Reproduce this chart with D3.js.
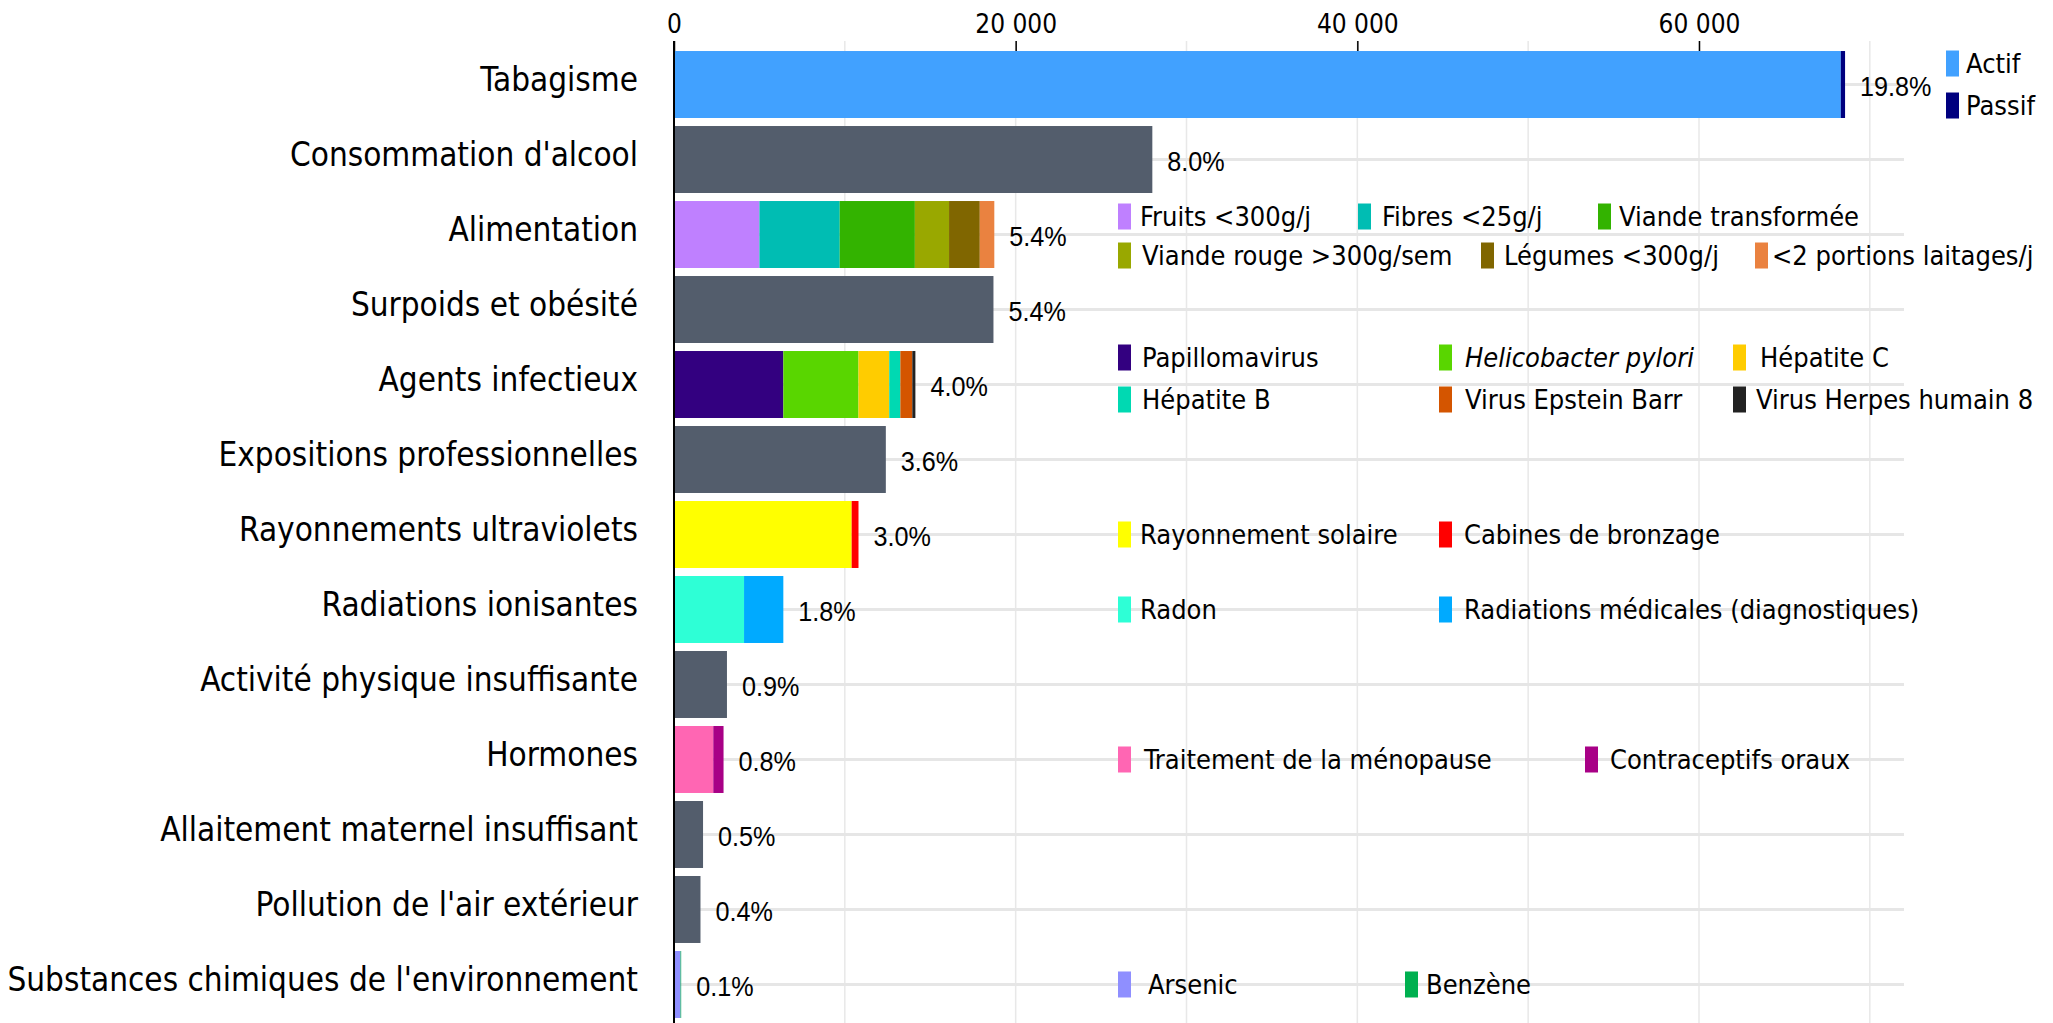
<!DOCTYPE html>
<html lang="fr">
<head>
<meta charset="utf-8">
<title>Cancers attribuables aux facteurs de risque</title>
<script src="https://cdn.jsdelivr.net/npm/d3@7"></script>
<style>
  body { margin: 0; background: #fff; }
  svg { display: block; }
  .cond { font-family: 'DejaVu Sans Condensed', 'DejaVu Sans', sans-serif; font-stretch: condensed; }
</style>
</head>
<body>
<div id="chart"></div>
<script>
// categories, top to bottom
var categories = ["Tabagisme", "Consommation d'alcool", "Alimentation", "Surpoids et obésité",
  "Agents infectieux", "Expositions professionnelles", "Rayonnements ultraviolets",
  "Radiations ionisantes", "Activité physique insuffisante", "Hormones",
  "Allaitement maternel insuffisant", "Pollution de l'air extérieur",
  "Substances chimiques de l'environnement"];
var percentLabels = ["19.8%", "8.0%", "5.4%", "5.4%", "4.0%", "3.6%", "3.0%", "1.8%",
  "0.9%", "0.8%", "0.5%", "0.4%", "0.1%"];

// bars without breakdown
var plainNames = ["Consommation d'alcool", "Surpoids et obésité", "Expositions professionnelles",
  "Activité physique insuffisante", "Allaitement maternel insuffisant", "Pollution de l'air extérieur"];
var plainValues = [28000, 18700, 12400, 3100, 1700, 1550];

// stacked bars
var tabacNames = ["Actif", "Passif"];
var tabacValues = [68300, 250];
var alimNames = ["Fruits <300g/j", "Fibres <25g/j", "Viande transformée",
  "Viande rouge >300g/sem", "Légumes <300g/j", "<2 portions laitages/j"];
var alimValues = [5000, 4700, 4400, 2000, 1800, 850];
var infectNames = ["Papillomavirus", "Helicobacter pylori", "Hépatite C",
  "Hépatite B", "Virus Epstein Barr", "Virus Herpes humain 8"];
var infectValues = [6400, 4400, 1800, 650, 700, 180];
var uvNames = ["Rayonnement solaire", "Cabines de bronzage"];
var uvValues = [10400, 400];
var radNames = ["Radon", "Radiations médicales (diagnostiques)"];
var radValues = [4100, 2300];
var hormNames = ["Traitement de la ménopause", "Contraceptifs oraux"];
var hormValues = [2300, 600];
var chemNames = ["Arsenic", "Benzène"];
var chemValues = [380, 40];

var xTicks = [0, 20000, 40000, 60000];

var colors = {
  "plain": "#535d6c",
  "Actif": "#41a1ff", "Passif": "#00007f",
  "Fruits <300g/j": "#bf80ff", "Fibres <25g/j": "#00bdb3", "Viande transformée": "#33b300",
  "Viande rouge >300g/sem": "#99a800", "Légumes <300g/j": "#806600", "<2 portions laitages/j": "#ea8240",
  "Papillomavirus": "#330080", "Helicobacter pylori": "#59d600", "Hépatite C": "#ffcc00",
  "Hépatite B": "#00d9b2", "Virus Epstein Barr": "#d45500", "Virus Herpes humain 8": "#222222",
  "Rayonnement solaire": "#ffff00", "Cabines de bronzage": "#ff0000",
  "Radon": "#2effd6", "Radiations médicales (diagnostiques)": "#00aaff",
  "Traitement de la ménopause": "#ff66b3", "Contraceptifs oraux": "#a80086",
  "Arsenic": "#8f8fff", "Benzène": "#00b050"
};

// legend placement: [swatch x, offset from row centre, text x]
var legendPos = {
  "Actif": [1946, -21, 1966], "Passif": [1946, 21, 1966],
  "Fruits <300g/j": [1118, -18, 1140], "Fibres <25g/j": [1358, -18, 1382], "Viande transformée": [1598, -18, 1619],
  "Viande rouge >300g/sem": [1118, 21, 1142], "Légumes <300g/j": [1481, 21, 1504], "<2 portions laitages/j": [1755, 21, 1772],
  "Papillomavirus": [1118, -27, 1142], "Helicobacter pylori": [1439, -27, 1465], "Hépatite C": [1733, -27, 1760],
  "Hépatite B": [1118, 15, 1142], "Virus Epstein Barr": [1439, 15, 1465], "Virus Herpes humain 8": [1733, 15, 1756],
  "Rayonnement solaire": [1118, 0, 1140], "Cabines de bronzage": [1439, 0, 1464],
  "Radon": [1118, 0, 1140], "Radiations médicales (diagnostiques)": [1439, 0, 1464],
  "Traitement de la ménopause": [1118, 0, 1144], "Contraceptifs oraux": [1585, 0, 1610],
  "Arsenic": [1118, 0, 1148], "Benzène": [1405, 0, 1426]
};

var groups = [
  [0, tabacNames, tabacValues], [2, alimNames, alimValues], [4, infectNames, infectValues],
  [6, uvNames, uvValues], [7, radNames, radValues], [9, hormNames, hormValues], [12, chemNames, chemValues]
];

var rows = categories.map(function(c, i) {
  return { cat: c, pct: percentLabels[i], parts: [] };
});
plainNames.forEach(function(n, i) {
  rows[categories.indexOf(n)].parts.push({ name: "plain", value: plainValues[i] });
});
groups.forEach(function(g) {
  g[1].forEach(function(n, i) {
    rows[g[0]].parts.push({ name: n, value: g[2][i] });
  });
});
rows.forEach(function(r) {
  var acc = 0;
  r.parts.forEach(function(p) { p.x0 = acc; acc += p.value; p.x1 = acc; });
  r.total = acc;
});

var W = 2053, H = 1023;
var svg = d3.select("#chart").append("svg")
  .attr("width", W).attr("height", H)
  .style("background", "#fff");

var x = d3.scaleLinear().domain([0, 72000]).range([674, 1904]);
var y = d3.scaleBand().domain(categories).range([43, 1026]).padding(0.107);
var mid = function(c) { return y(c) + y.bandwidth() / 2; };

// grid
svg.append("g").selectAll("line")
  .data(d3.range(10000, 80000, 10000))
  .join("line")
    .attr("x1", d => x(d)).attr("x2", d => x(d))
    .attr("y1", 41).attr("y2", H)
    .attr("stroke", "#e8e8e8").attr("stroke-width", 1.5);

svg.append("g").selectAll("line")
  .data(categories)
  .join("line")
    .attr("x1", x(0)).attr("x2", x.range()[1])
    .attr("y1", d => mid(d)).attr("y2", d => mid(d))
    .attr("stroke", "#e6e6e6").attr("stroke-width", 3);

// bars
svg.append("g").selectAll("g")
  .data(rows)
  .join("g")
  .selectAll("rect")
  .data(function(r) { return r.parts.map(function(p) { p.cat = r.cat; return p; }); })
  .join("rect")
    .attr("x", d => x(d.x0))
    .attr("width", d => x(d.x1) - x(d.x0))
    .attr("y", d => y(d.cat))
    .attr("height", y.bandwidth())
    .attr("fill", d => colors[d.name]);

// percent labels (slightly narrowed Arial-like face)
svg.append("g").selectAll("text")
  .data(rows)
  .join("text")
    .attr("transform", d => "translate(" + (x(d.total) + 15) + "," + (mid(d.cat) + 2) + ") scale(0.9,1)")
    .attr("dominant-baseline", "central")
    .style("font-family", "'Liberation Sans', Arial, sans-serif")
    .style("font-size", "28px")
    .text(d => d.pct);

// top axis
var xAxis = svg.append("g")
  .attr("transform", "translate(0,51)")
  .call(d3.axisTop(x).tickValues(xTicks).tickSize(10).tickPadding(8)
    .tickFormat(d => d3.format(",")(d).replace(/,/g, " ")));
xAxis.select(".domain").remove();
xAxis.selectAll("line").attr("stroke", "#000").attr("stroke-width", 1.5);
xAxis.selectAll("text")
  .attr("class", "cond")
  .style("font-size", "26px")
  .attr("fill", "#000");

// category axis
var yAxis = svg.append("g")
  .attr("transform", "translate(" + x(0) + ",0)")
  .call(d3.axisLeft(y).tickSize(0).tickPadding(36));
yAxis.select(".domain").attr("stroke", "#000").attr("stroke-width", 2)
  .attr("d", "M0,41V" + H);
yAxis.selectAll("text")
  .attr("class", "cond")
  .attr("dy", "0.32em")
  .attr("y", -4)
  .style("font-size", "33px")
  .attr("fill", "#000");

// legends
var legendItems = [];
groups.forEach(function(g) {
  g[1].forEach(function(n) { legendItems.push({ name: n, cat: categories[g[0]] }); });
});

var leg = svg.append("g").selectAll("g")
  .data(legendItems)
  .join("g")
    .attr("transform", d => "translate(0," + (mid(d.cat) + legendPos[d.name][1]) + ")");

leg.append("rect")
  .attr("x", d => legendPos[d.name][0])
  .attr("y", -13)
  .attr("width", 13).attr("height", 26)
  .attr("fill", d => colors[d.name]);

leg.append("text")
  .attr("class", "cond")
  .attr("x", d => legendPos[d.name][2])
  .attr("dy", "0.35em")
  .style("font-size", "27px")
  .style("font-style", d => d.name === "Helicobacter pylori" ? "italic" : null)
  .text(d => d.name);
</script>
</body>
</html>
